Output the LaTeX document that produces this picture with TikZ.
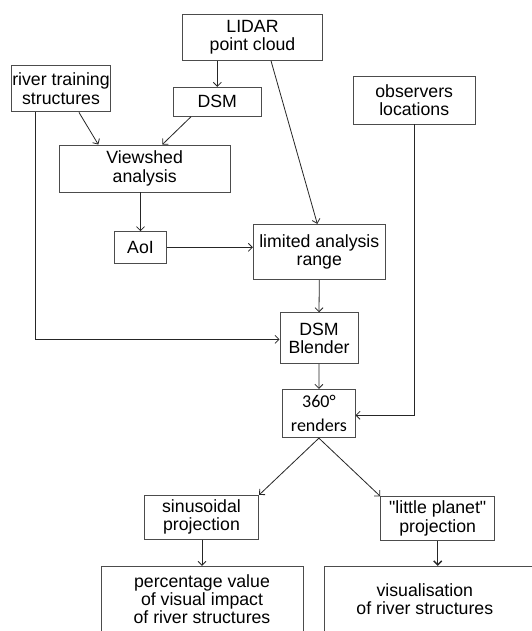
\documentclass[tikz,border=0pt]{standalone}
\usepackage{fontspec}
\setmainfont{Liberation Sans}[Ligatures=TeXOff]
\newfontfamily\calib{Carlito}
\usetikzlibrary{arrows.meta}
\begin{document}
\begin{tikzpicture}[x=1pt,y=-1pt,
  box/.style={draw=black!70, line width=0.9pt, align=center, inner sep=0pt,
    font=\fontsize{17.7}{18.4}\selectfont},
  arr/.style={draw=black!85, line width=0.8pt, -{Straight Barb[length=4pt,width=8pt]}},
  con/.style={draw=black!85, line width=0.8pt}]
\useasboundingbox (0,0) rectangle (532,631);
\clip (0,0) rectangle (532,631);
\fill[white] (0,0) rectangle (532,631);
\node[box, minimum width=140.4pt, minimum height=46.3pt] (lidar) at (252.5,37.2) {LIDAR\\point cloud};
\node[box, minimum width=98.6pt, minimum height=46.3pt] (river) at (61,88.8) {river training\\structures};
\node[box, minimum width=87.3pt, minimum height=29pt] (dsm) at (217.3,101.8) {DSM};
\node[box, minimum width=122.3pt, minimum height=47.7pt] (obs) at (414.2,100.2) {observers\\locations};
\node[box, minimum width=171.3pt, minimum height=47pt] (view) at (144.7,168.5) {Viewshed\\analysis};
\node[box, minimum width=52.4pt, minimum height=31.3pt] (aoi) at (140.5,247.3) {AoI};
\node[box, minimum width=132pt, minimum height=55.4pt] (lim) at (319.3,252) {limited analysis\\range};
\node[box, minimum width=78pt, minimum height=51pt] (blend) at (319,338.2) {DSM\\Blender};
\node[box, minimum width=72.3pt, minimum height=48.4pt, font=\calib\fontsize{18}{24}\selectfont] (r360) at (318.9,413.5) {360°\\renders};
\node[box, minimum width=114.4pt, minimum height=43.7pt] (sin) at (201.5,517.2) {sinusoidal\\projection};
\node[box, minimum width=114pt, minimum height=43.6pt] (lp) at (437.7,518.5) {"little planet"\\projection};
\node[box, minimum width=202pt, minimum height=65.8pt] (pct) at (202,599.2) {percentage value\\of visual impact\\of river structures};
\node[box, minimum width=220pt, minimum height=65.8pt] (vis) at (434.3,599.2) {visualisation\hspace*{19pt}\\of river structures\hspace*{19pt}};
% connectors
\draw[arr] (lidar.south -| dsm.north) -- (dsm.north);
\draw[arr] ([xshift=18.5pt]lidar.south) -- ([xshift=-2pt]lim.north);
\draw[arr] ([xshift=18pt]river.south) -- ([xshift=-46.4pt]view.north);
\draw[arr] ([xshift=-26.3pt]dsm.south) -- ([xshift=17.6pt]view.north);
\draw[arr] (view.south -| aoi.north) -- (aoi.north);
\draw[arr] (aoi.east) -- (aoi.east -| lim.west);
\draw[arr] (lim.south) -- (blend.north);
\draw[arr] ([xshift=-25.3pt]river.south) |- ([yshift=-1.2pt]blend.west);
\draw[arr] (blend.south) -- (r360.north);
\draw[arr] (obs.south) |- ([yshift=-1.8pt]r360.east);
\draw[arr] (r360.south) -- (sin.north east);
\draw[arr] (r360.south) -- (lp.north west);
\draw[arr] (sin.south -| pct.north) -- (pct.north);
\draw[arr, line width=1.4pt] (lp.south) -- (lp.south |- vis.north);
\end{tikzpicture}
\end{document}
